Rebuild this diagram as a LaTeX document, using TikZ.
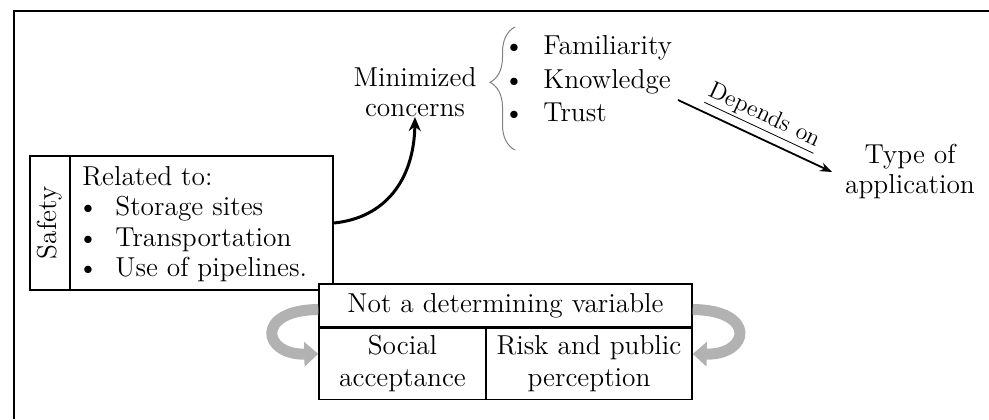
\documentclass[tikz,border=0pt]{standalone}
\usetikzlibrary{positioning,arrows.meta,decorations.pathreplacing}

\begin{document}
\begin{tikzpicture}[
  x=0.5pt, y=-0.5pt,
  every node/.style={font=\fontsize{13.7}{15}\selectfont, inner sep=0pt},
  box/.style={draw, line width=0.7pt, fill=white},
  cell/.style={draw, line width=0.7pt, fill=white, align=center},
  txt/.style={anchor=base west},
  dot/.style={anchor=base},
  arr/.style={-{Stealth[length=6pt,width=4.5pt]}, line width=0.9pt},
  curvarr/.style={-{Stealth[length=7pt,width=6pt]}, line width=1.5pt},
  sidearr/.style={-{Triangle[length=7pt,width=12pt]}, line width=5.5pt, gray!60}
]
\useasboundingbox (0,0) rectangle (989,419);

% frame
\draw[line width=1pt] (14,419) -- (14,11) -- (989,11);

% safety box
\node[box, minimum width=151.5pt, minimum height=67pt] (safety) at (181.5,223) {};
\draw[line width=1.1pt] ([xshift=20.5pt]safety.north west) -- ([xshift=20.5pt]safety.south west);
\node[rotate=90] (safetylbl) at (50,223) {Safety};
\node[txt] (rel) at (82,185) {Related to:};
\foreach \t [count=\i] in {Storage sites, Transportation, Use of pipelines.} {
  \node[dot] (sdot\i) at (88,185+30.5*\i) {\textbullet};
  \node[txt] (sitem\i) at (115,185+30.5*\i) {\t};
}

% minimized concerns and brace
\node[align=center] (minc) at (415,92) {Minimized\\concerns};
\draw[gray, line width=0.5pt, decorate, decoration={brace, amplitude=12.5pt, aspect=0.55}] (515,150) -- (515,27);
\foreach \t/\y [count=\i] in {Familiarity/54, Knowledge/88, Trust/121} {
  \node[dot] (cdot\i) at (514,\y) {\textbullet};
  \node[txt] (citem\i) at (543,\y) {\t};
}

% type of application
\node[align=center] (type) at (910,172) {Type of\\application};
\coordinate (dstart) at (678,100);
\coordinate (dend) at (832,172);
\draw[arr] (dstart) -- node[sloped, above=3.5pt, pos=0.5, font=\fontsize{12}{14}\selectfont] {\underline{Depends on}} (dend);

% safety to concerns
\draw[curvarr] (safety.east) .. controls (385,218) and (414,180) .. (minc.south);

% table
\node[cell, minimum width=186.5pt, minimum height=21.5pt] (nadv) at (505.5,305.5) {Not a determining variable};
\node[cell, anchor=north west, minimum width=83.5pt, minimum height=35.5pt] (soc) at (nadv.south west) {Social\\[1pt]acceptance};
\node[cell, anchor=north east, minimum width=103pt, minimum height=35.5pt] (risk) at (nadv.south east) {Risk and public\\[1pt]perception};

% side loops
\draw[sidearr] ([yshift=-2pt]nadv.west) .. controls (255,310) and (262,355) .. ([yshift=5pt]soc.west);
\draw[sidearr] ([yshift=-2pt]nadv.east) .. controls (757,310) and (750,355) .. ([yshift=5pt]risk.east);

\end{tikzpicture}
\end{document}
